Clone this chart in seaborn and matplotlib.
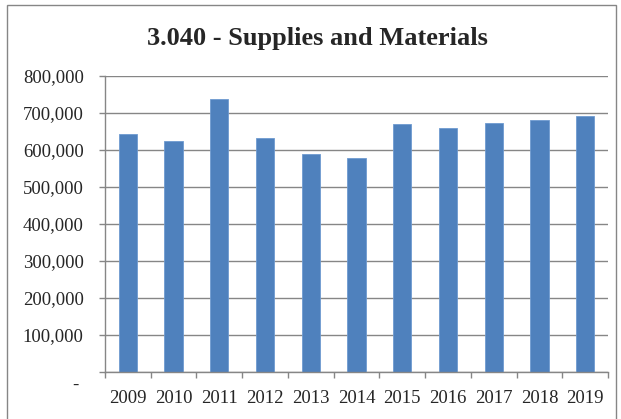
import matplotlib
matplotlib.use("Agg")
import matplotlib.pyplot as plt
import matplotlib.ticker as mticker
import matplotlib.transforms as mtrans
from matplotlib.patches import Rectangle
import seaborn as sns
import pandas as pd
import numpy as np

years = ["2009", "2010", "2011", "2012", "2013", "2014", "2015", "2016", "2017", "2018", "2019"]
values = [644000, 624000, 738000, 632000, 589000, 578000, 669000, 660000, 672000, 682000, 693000]
title = "3.040 - Supplies and Materials"
yticks = [0, 100000, 200000, 300000, 400000, 500000, 600000, 700000, 800000]

sns.set_style("white")
plt.rcParams['font.family'] = ['Liberation Serif', 'DejaVu Serif']

df = pd.DataFrame({"year": years, "value": values})

fig = plt.figure(figsize=(6.21, 4.19), dpi=100)
ax = fig.add_axes([105/621, 1 - 372/419, (608-105)/621, (372-76)/419])

sns.barplot(data=df, x="year", y="value", color="#4F81BD", width=0.4,
            saturation=1, ax=ax, edgecolor="#6E9AD0", linewidth=0.6)

ax.set_ylim(0, 800000)
ax.set_xlim(-0.5, len(years) - 0.5)
ax.set_yticks(yticks)
ax.yaxis.set_major_formatter(mticker.FuncFormatter(lambda v, p: "- " if v == 0 else f"{int(v):,}"))
ax.yaxis.grid(True, color="#868686", linewidth=1.0)
ax.set_axisbelow(True)
ax.set_xlabel("")
ax.set_ylabel("")

for s in ["top", "right"]:
    ax.spines[s].set_visible(False)
for s in ["left", "bottom"]:
    ax.spines[s].set_color("#868686")
    ax.spines[s].set_linewidth(1.0)

ax.tick_params(axis="y", which="major", length=4.3, width=1, color="#868686",
               labelsize=13.5, pad=11, left=True)
ax.tick_params(axis="x", which="major", length=0, labelsize=13.5, pad=13)
ax.set_xticks(np.arange(-0.5, len(years)), minor=True)
ax.tick_params(axis="x", which="minor", length=4.3, width=1, color="#868686", bottom=True)

fig.canvas.draw()
zero_label = ax.get_yticklabels()[0]
zero_label.set_transform(zero_label.get_transform() +
                         mtrans.ScaledTranslation(0, -10/100, fig.dpi_scale_trans))

fig.text(317/621, 1 - 38/419, title, ha="center", va="center",
         fontsize=19, fontweight="bold")

fig.patches.append(Rectangle((7/621, -0.05), (616-7)/621, 1.05 - 5/419,
                             transform=fig.transFigure, fill=False,
                             edgecolor="#868686", linewidth=1.0))

fig.savefig("out.png", dpi=100)
